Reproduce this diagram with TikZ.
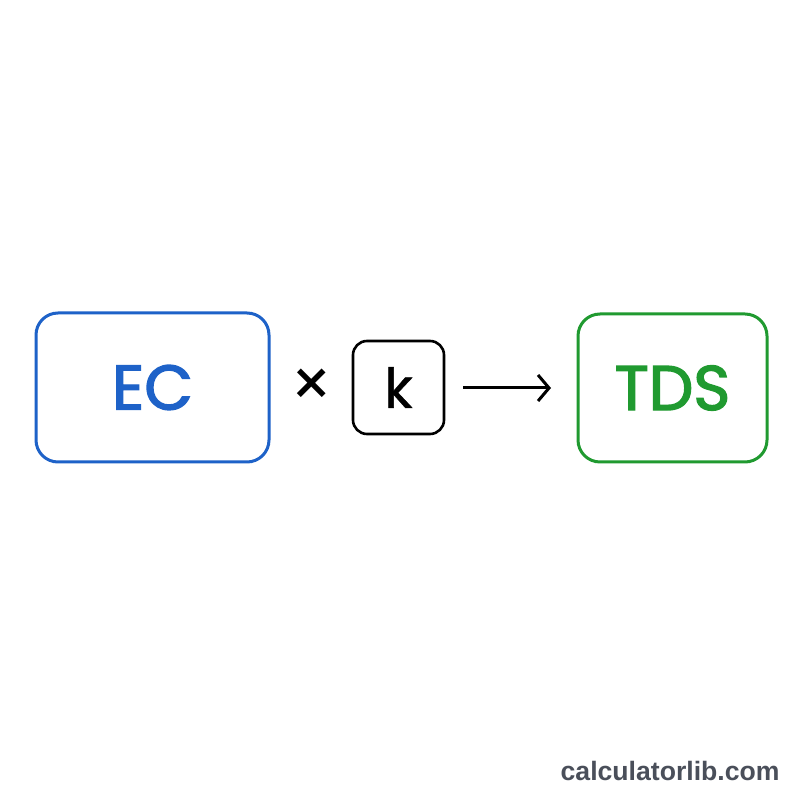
\documentclass[tikz,border=0pt]{standalone}
\usepackage{fontspec}
\setmainfont{Poppins}
\newfontfamily\popmed[FakeBold=2.2]{Poppins}
\newfontfamily\popk[FakeBold=0.8]{Poppins}
\newfontfamily\wmfont{Liberation Sans}
\usetikzlibrary{arrows.meta}
\definecolor{ecblue}{HTML}{1E62C8}
\definecolor{tdsgreen}{HTML}{209A30}
\definecolor{wmgray}{HTML}{4A4F5A}
\tikzset{
  bigbox/.style={draw, line width=3pt, rounded corners=22pt, inner sep=0pt},
  kbox/.style={draw=black, line width=2.6pt, rounded corners=14pt, inner sep=0pt, minimum width=91pt, minimum height=93pt},
  bigtext/.style={font=\popmed\fontsize{63}{63}\selectfont},
}
\begin{document}
\begin{tikzpicture}[x=1pt,y=1pt]
\useasboundingbox[fill=white] (0,0) rectangle (800,800);
\node[bigbox, bigtext, draw=ecblue, text=ecblue, minimum width=233pt, minimum height=149pt] (ec) at (152.5,412.5) {EC};
\node[font=\fontsize{66}{66}\selectfont] (times) at (312,412) {×};
\node[kbox, font=\popk\fontsize{55}{55}\selectfont] (k) at (398.5,412.5) {k};
\node[bigbox, bigtext, draw=tdsgreen, text=tdsgreen, minimum width=189pt, minimum height=148pt] (tds) at (672.5,412) {TDS};
\coordinate (a1) at (463,412);
\coordinate (a2) at (551,412);
\draw[line width=3pt, -{Straight Barb[length=11pt, width=26pt, line width=3pt]}] (a1) -- (a2);
\node[text=wmgray, font=\wmfont\fontsize{26.6}{26.6}\selectfont\bfseries, anchor=base east] (wm) at (783,19) {calculatorlib.com};
\end{tikzpicture}
\end{document}
